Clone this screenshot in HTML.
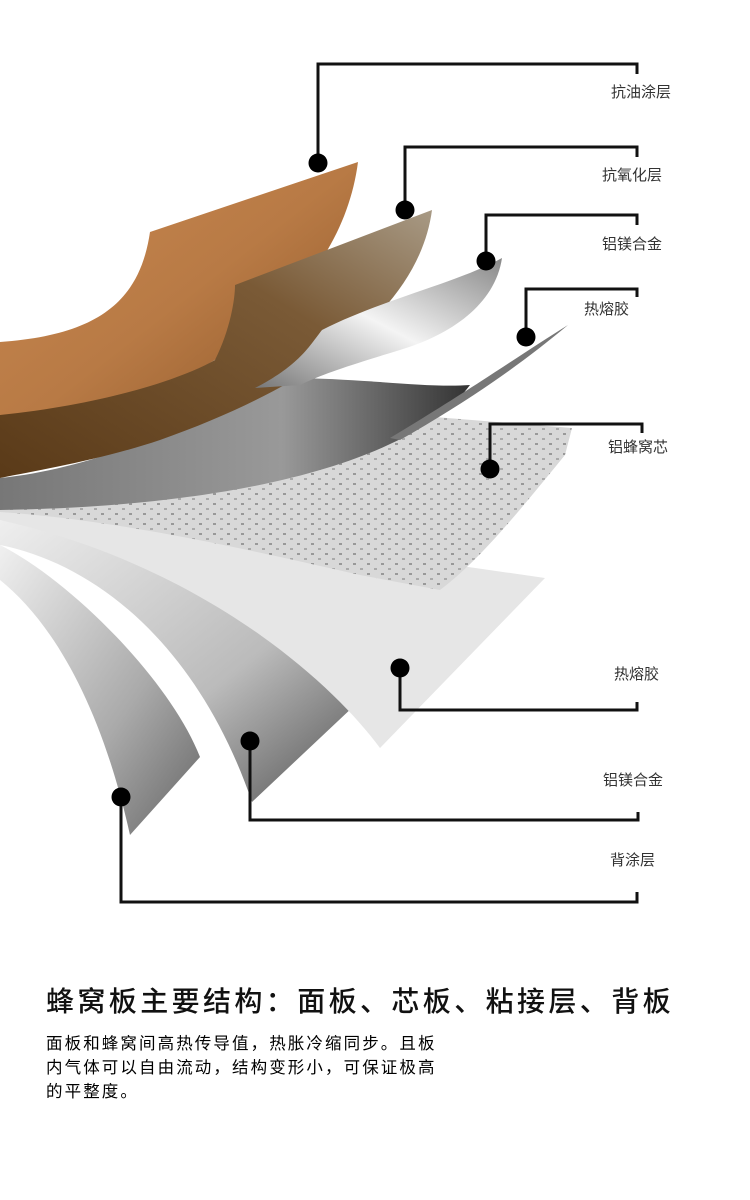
<!DOCTYPE html>
<html><head><meta charset="utf-8"><style>
html,body{margin:0;padding:0;background:#fff;width:750px;height:1200px;overflow:hidden}
.wrap{position:relative;width:750px;height:1200px;font-family:"Liberation Sans","Noto Sans CJK SC",sans-serif}
.lb{position:absolute;font-size:15px;color:#333;white-space:nowrap}
.title{position:absolute;left:46px;top:980px;font-size:28px;letter-spacing:3.4px;color:#111;white-space:nowrap;font-weight:500}
.p{position:absolute;left:46px;top:1032px;font-size:16.5px;line-height:24px;color:#000;letter-spacing:2.1px}
</style></head><body><div class="wrap">
<svg width="750" height="950" style="position:absolute;left:0;top:0">
<defs>
<linearGradient id="wood" x1="0" y1="0" x2="1" y2="1"><stop offset="0" stop-color="#c98850"/><stop offset=".5" stop-color="#b87a45"/><stop offset="1" stop-color="#8a5426"/></linearGradient>
<linearGradient id="brown" x1="1" y1="0" x2="0" y2="1"><stop offset="0" stop-color="#a89a85"/><stop offset=".35" stop-color="#7a5a36"/><stop offset="1" stop-color="#5a3a18"/></linearGradient>
<linearGradient id="gray" x1="0" y1="0" x2="1" y2="0"><stop offset="0" stop-color="#777"/><stop offset=".6" stop-color="#999"/><stop offset="1" stop-color="#333"/></linearGradient>
<linearGradient id="silver" x1="0" y1="1" x2="1" y2="0"><stop offset="0" stop-color="#777"/><stop offset=".5" stop-color="#f4f4f4"/><stop offset="1" stop-color="#888"/></linearGradient>
<linearGradient id="mid" x1="0" y1="0" x2="1" y2="1"><stop offset="0" stop-color="#eee"/><stop offset=".6" stop-color="#bbb"/><stop offset="1" stop-color="#555"/></linearGradient>
<linearGradient id="back" x1="0" y1="0" x2="1" y2="1"><stop offset="0" stop-color="#f0f0f0"/><stop offset=".6" stop-color="#aaa"/><stop offset="1" stop-color="#666"/></linearGradient>
<pattern id="hex" width="14" height="10" patternUnits="userSpaceOnUse"><rect width="14" height="10" fill="#d8d8d8"/><rect x="3" y="3" width="3" height="2" fill="#999"/><rect x="10" y="8" width="3" height="2" fill="#aaa"/></pattern>
</defs>
<path d="M0,545 C70,580 170,680 200,757 L130,835 C100,700 50,620 0,580 Z" fill="url(#back)"/>
<path d="M0,520 C150,540 280,640 355,705 L252,802 C200,650 100,565 0,545 Z" fill="url(#mid)"/>
<path d="M0,510 C150,520 300,555 420,560 L545,578 L380,748 C330,680 200,565 0,520 Z" fill="#e6e6e6"/>
<path d="M0,500 C150,515 330,470 410,415 L572,428 L565,455 C520,510 480,560 440,590 L360,575 C250,550 120,520 0,512 Z" fill="url(#hex)"/>
<path d="M0,478 C100,468 200,420 262,385 L300,378 C380,380 430,388 470,385 C430,440 300,505 0,510 Z" fill="url(#gray)"/>
<path d="M568,325 C520,365 470,400 400,440 L390,438 C470,390 520,355 568,325 Z" fill="#777"/>
<path d="M0,342 C100,335 140,300 150,232 L358,162 C340,300 200,400 0,440 Z" fill="url(#wood)"/>
<path d="M0,415 C100,405 180,380 215,360 C230,330 235,300 235,285 L432,210 C420,300 330,380 160,440 C100,460 40,470 0,478 Z" fill="url(#brown)"/>
<path d="M255,388 C300,365 310,345 322,330 C380,300 460,282 502,258 C495,305 450,335 400,350 C350,365 320,375 300,385 Z" fill="url(#silver)"/>
<g stroke="#111" stroke-width="3" fill="none">
<path d="M318,163 V64 H637 V74"/>
<path d="M405,210 V147 H637 V157"/>
<path d="M486,261 V215 H637 V225"/>
<path d="M526,337 V289 H637 V297"/>
<path d="M490,469 V424 H642 V433"/>
<path d="M400,668 V710 H637 V702"/>
<path d="M250,741 V820 H638 V812"/>
<path d="M121,797 V902 H637 V892"/>
</g>
<g fill="#000">
<circle cx="318" cy="163" r="9.5"/><circle cx="405" cy="210" r="9.5"/><circle cx="486" cy="261" r="9.5"/><circle cx="526" cy="337" r="9.5"/><circle cx="490" cy="469" r="9.5"/><circle cx="400" cy="668" r="9.5"/><circle cx="250" cy="741" r="9.5"/><circle cx="121" cy="797" r="9.5"/>
</g>
</svg>
<div class="lb" style="left:611px;top:81px">抗油涂层</div>
<div class="lb" style="left:602px;top:164px">抗氧化层</div>
<div class="lb" style="left:602px;top:233px">铝镁合金</div>
<div class="lb" style="left:584px;top:298px">热熔胶</div>
<div class="lb" style="left:608px;top:436px">铝蜂窝芯</div>
<div class="lb" style="left:614px;top:663px">热熔胶</div>
<div class="lb" style="left:603px;top:769px">铝镁合金</div>
<div class="lb" style="left:610px;top:849px">背涂层</div>
<div class="title">蜂窝板主要结构：面板、芯板、粘接层、背板</div>
<div class="p">面板和蜂窝间高热传导值，热胀冷缩同步。且板<br>内气体可以自由流动，结构变形小，可保证极高<br>的平整度。</div>
</div></body></html>
